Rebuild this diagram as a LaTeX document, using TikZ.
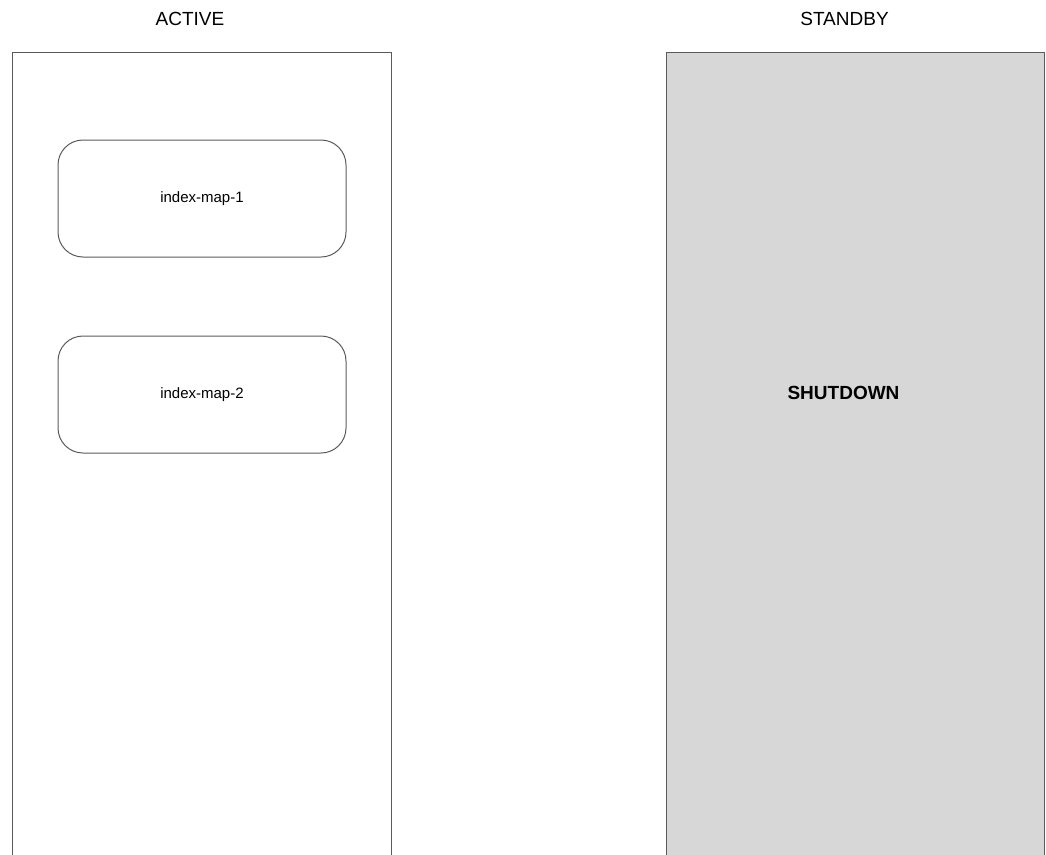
\documentclass[tikz,border=0pt]{standalone}
\usepackage{fontspec}
\setmainfont{Liberation Sans}
\usetikzlibrary{positioning}
\definecolor{edgegray}{HTML}{5A5A5A}
\definecolor{standbyfill}{HTML}{D7D7D7}
\tikzset{
  lane/.style={draw=edgegray,line width=1pt,minimum width=379pt,minimum height=880pt,anchor=north west,inner sep=0pt},
  mapbox/.style={draw=edgegray,line width=1pt,rounded corners=25pt,minimum width=288pt,minimum height=117pt,font=\fontsize{15}{18}\selectfont},
  lanetitle/.style={font=\fontsize{19}{22}\selectfont}
}
\begin{document}
\begin{tikzpicture}[x=1pt,y=-1pt]
\useasboundingbox (0,0) rectangle (1046,854);
\clip (0,0) rectangle (1046,854);
% lanes
\node[lane] (active) at (12,52) {};
\node[lane,fill=standbyfill,minimum width=378pt] (standby) at (666,52) {};
\node[lanetitle] (activetitle) at (190,19) {ACTIVE};
\node[lanetitle] (standbytitle) at (844.5,19) {STANDBY};
% maps in the active lane
\node[mapbox] (map1) at (202,198.5) {index-map-1};
\node[mapbox,below=78pt of map1] (map2) {index-map-2};
% standby state
\node[font=\bfseries\fontsize{19}{22}\selectfont] (shutdown) at (843.5,393) {SHUTDOWN};
\end{tikzpicture}
\end{document}
